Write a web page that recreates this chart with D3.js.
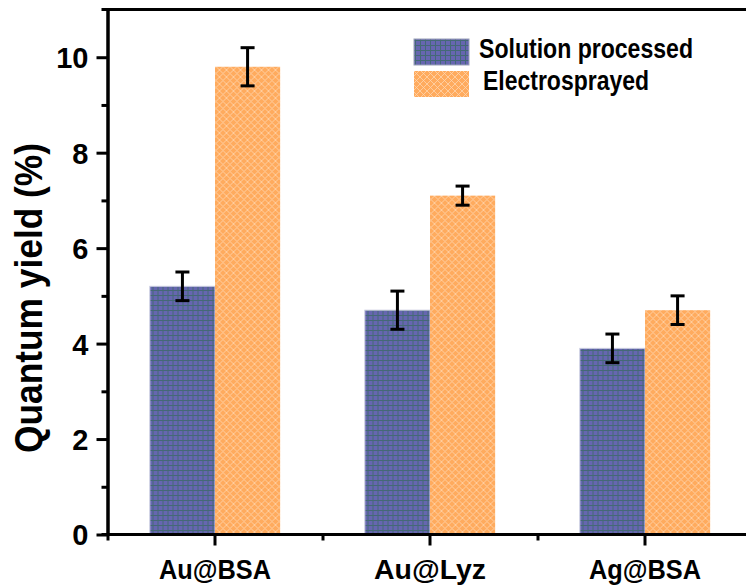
<!DOCTYPE html>
<html>
<head>
<meta charset="utf-8">
<script src="https://cdn.jsdelivr.net/npm/d3@7"></script>
<style>
  html, body { margin: 0; padding: 0; background: #fff; }
  svg { display: block; }
  text { font-family: "Liberation Sans", Arial, sans-serif; font-weight: bold; fill: #000; }
</style>
</head>
<body>
<svg id="chart" width="746" height="586"></svg>
<script>
// Quantum yield of metal clusters, solution processed vs electrosprayed
const categories = ["Au@BSA", "Au@Lyz", "Ag@BSA"];
const series = ["Solution processed", "Electrosprayed"];
const solutionValues = [5.2, 4.7, 3.9];
const solutionErrors = [0.3, 0.4, 0.3];
const electroValues = [9.8, 7.1, 4.7];
const electroErrors = [0.4, 0.2, 0.3];
const yMajorTicks = [0, 2, 4, 6, 8, 10];
const yMinorTicks = [1, 3, 5, 7, 9];

const svg = d3.select("#chart");
const W = 746, H = 586;
const plotLeft = 107.5, plotRight = 752.5, plotTop = 9.5, plotBottom = 534.5;

// Fill patterns: blue with green grid, orange with white diagonal lattice
const defs = svg.append("defs");
const pBlue = defs.append("pattern").attr("id", "pat-solution")
  .attr("patternUnits", "userSpaceOnUse").attr("width", 5).attr("height", 5);
pBlue.append("rect").attr("width", 5).attr("height", 5).attr("fill", "#6666b0");
pBlue.append("path").attr("d", "M0,0.5H5M0.5,0V5")
  .attr("stroke", "#2d6a4f").attr("stroke-width", 1).attr("opacity", 0.6);

const pOrange = defs.append("pattern").attr("id", "pat-electro")
  .attr("patternUnits", "userSpaceOnUse").attr("width", 7).attr("height", 7);
pOrange.append("rect").attr("width", 7).attr("height", 7).attr("fill", "#ffab5e");
pOrange.append("path").attr("d", "M0,0L7,7M7,0L0,7")
  .attr("stroke", "#fff").attr("stroke-width", 0.8).attr("opacity", 0.5);

const fills = ["url(#pat-solution)", "url(#pat-electro)"];

// Scales
const x0 = d3.scaleBand().domain(categories).range([plotLeft, plotRight]).paddingInner(0).paddingOuter(0);
const x1 = d3.scaleBand().domain(series).range([0, x0.bandwidth()]).paddingInner(0).paddingOuter(0.65);
const xIdx = d3.scaleLinear().domain([0, categories.length]).range([plotLeft, plotRight]);
const y = d3.scaleLinear().domain([0, 11]).range([plotBottom, plotTop]);

const rows = categories.map((c, i) => ({
  category: c,
  values: [
    { key: series[0], value: solutionValues[i], err: solutionErrors[i] },
    { key: series[1], value: electroValues[i], err: electroErrors[i] }
  ]
}));

// Bars
const groups = svg.append("g").selectAll("g").data(rows).join("g")
  .attr("transform", d => `translate(${x0(d.category)},0)`);

groups.selectAll("rect").data(d => d.values).join("rect")
  .attr("x", d => x1(d.key))
  .attr("width", x1.bandwidth())
  .attr("y", d => y(d.value))
  .attr("height", d => y(0) - y(d.value))
  .attr("fill", (d, i) => fills[i])
  .attr("stroke", (d, i) => i === 0 ? "#c9cbe0" : "none")
  .attr("stroke-width", 1);

// Error bars
const eb = groups.selectAll("g.err").data(d => d.values).join("g").attr("class", "err")
  .attr("stroke", "#000").attr("stroke-width", 3).attr("fill", "none");
const cx = d => x1(d.key) + x1.bandwidth() / 2;
eb.append("line")
  .attr("x1", cx).attr("x2", cx)
  .attr("y1", d => y(d.value + d.err))
  .attr("y2", d => y(d.value - d.err));
eb.append("line")
  .attr("x1", d => cx(d) - 7).attr("x2", d => cx(d) + 7)
  .attr("y1", d => y(d.value + d.err))
  .attr("y2", d => y(d.value + d.err));
eb.append("line")
  .attr("x1", d => cx(d) - 7).attr("x2", d => cx(d) + 7)
  .attr("y1", d => y(d.value - d.err))
  .attr("y2", d => y(d.value - d.err));

// Top frame line
svg.append("line").attr("x1", plotLeft - 6).attr("x2", W).attr("y1", plotTop).attr("y2", plotTop)
  .attr("stroke", "#000").attr("stroke-width", 3);

// Y axis
const yAxis = svg.append("g").attr("transform", `translate(${plotLeft},0)`)
  .call(d3.axisLeft(y).tickValues(yMajorTicks).tickSize(11).tickSizeOuter(0).tickPadding(8).tickFormat(d3.format("d")));
svg.append("g").attr("transform", `translate(${plotLeft},0)`)
  .call(d3.axisLeft(y).tickValues(yMinorTicks).tickSize(6).tickSizeOuter(0).tickFormat(""));
yAxis.selectAll(".tick text").attr("font-size", 29).attr("dy", "0.36em")
  .style("font-family", '"Liberation Sans", Arial, sans-serif').style("font-weight", "bold");

// X axis
const xAxis = svg.append("g").attr("transform", `translate(0,${plotBottom})`)
  .call(d3.axisBottom(x0).tickSize(11).tickSizeOuter(0).tickPadding(14));
const xMinor = svg.append("g").attr("transform", `translate(0,${plotBottom})`)
  .call(d3.axisBottom(xIdx).tickValues(d3.range(categories.length + 1)).tickSize(6).tickSizeOuter(0).tickFormat(""));
xMinor.select(".domain").attr("d", `M${plotLeft - 6},0H${W}`);
xAxis.select(".domain").remove();
svg.selectAll(".domain").attr("stroke-width", 3);
svg.selectAll(".tick line").attr("stroke-width", 3);
xAxis.selectAll(".tick text").attr("font-size", 28).attr("dy", "0.71em")
  .attr("textLength", 112).attr("lengthAdjust", "spacingAndGlyphs")
  .style("font-family", '"Liberation Sans", Arial, sans-serif').style("font-weight", "bold");
svg.selectAll(".tick text").attr("fill", "#000");

// Y axis title
svg.append("text")
  .attr("transform", `translate(42,298) rotate(-90)`)
  .attr("text-anchor", "middle")
  .attr("font-size", 39)
  .attr("textLength", 310).attr("lengthAdjust", "spacingAndGlyphs")
  .text("Quantum yield (%)");

// Legend
const legend = svg.append("g");
const legendRows = [
  { key: series[0], fill: fills[0], y: 39, tx: 479, tlen: 214 },
  { key: series[1], fill: fills[1], y: 71, tx: 483, tlen: 166 }
];
legend.selectAll("rect").data(legendRows).join("rect")
  .attr("x", 414).attr("y", d => d.y).attr("width", 55).attr("height", 26)
  .attr("fill", d => d.fill)
  .attr("stroke", (d, i) => i === 0 ? "#9aa0b8" : "none").attr("stroke-width", 1);
legend.selectAll("text").data(legendRows).join("text")
  .attr("x", d => d.tx).attr("y", d => d.y + 19)
  .attr("font-size", 27)
  .attr("textLength", d => d.tlen).attr("lengthAdjust", "spacingAndGlyphs")
  .text(d => d.key);
</script>
</body>
</html>
